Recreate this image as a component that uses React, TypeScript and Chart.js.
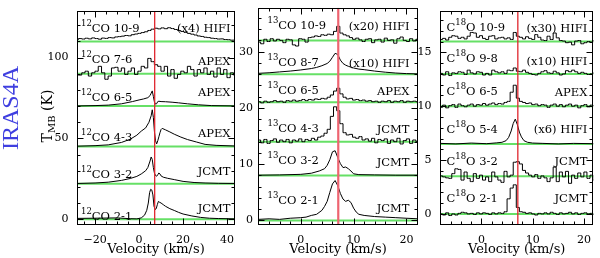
import { useEffect, useRef } from "react";
import { Chart, registerables } from "chart.js";

Chart.register(...registerables);

const V_SYS = 7.1;

// ---------------- 12CO panel ----------------
const GRID_12CO = [-28.3,-26.8,-25.3,-23.8,-22.3,-20.8,-19.3,-17.8,-16.3,-14.8,-13.3,-11.8,-10.3,-8.8,-7.3,-5.8,-4.3,-2.8,-1.3,0.2,1.7,3.2,4.7,6.2,7.7,9.2,10.7,12.2,13.7,15.2,16.7,18.2,19.7,21.2,22.7,24.2,25.7,27.2,28.7,30.2,31.7,33.2,34.7,36.2,37.7,39.2,40.7,42.2,43.7];
const CO12_10_9 = [1.2,1.8,1.5,2.0,1.6,2.2,1.8,1.4,2.1,1.9,2.4,2.2,2.8,3.0,3.3,3.7,3.5,4.2,4.6,5.0,5.5,6.0,6.8,7.6,8.2,7.8,8.4,7.9,8.5,8.0,7.4,6.8,6.2,5.6,5.0,4.5,4.0,3.4,3.1,2.6,2.4,2.0,1.8,1.5,1.6,1.2,1.1,0.8,0.9];
const CO12_7_6 = [-0.8,-0.8,0.6,1.6,-1.4,0.6,1.6,4.6,0.6,-3.4,-1.4,3.6,4.0,1.6,3.6,-0.4,1.6,3.6,-0.4,1.6,4.6,3.6,9.5,7.5,5.6,4.6,1.6,4.6,-1.4,2.6,-2.8,-0.4,1.6,0.6,4.6,2.6,-1.4,2.6,0.6,3.6,-0.4,1.6,-2.0,3.6,-0.4,2.6,-2.4,0.6,-0.8];
const CO12_6_5_V = [-28,-20,-14,-8,-3,0,2,4,5,5.5,6,6.5,7,7.5,8,8.5,9,10,12,15,18,22,27,33,43.6];
const CO12_6_5_T = [0.1,0.3,0.6,1.4,2.8,3.8,4.4,5.2,6.5,8,9.4,6,2.5,1.2,1.5,2.8,3.0,2.8,2.7,2.4,2.0,1.4,0.8,0.3,0.1];
const CO12_4_3_V = [-28,-20,-14,-8,-4,-1,1,3,4.5,5.5,6,6.5,7,7.5,8,8.5,9,9.5,10,10.5,12,14,16,19,22,26,30,35,43.6];
const CO12_4_3_T = [0.2,0.5,1.0,2.5,4.5,7.0,9.5,11.5,15,19,22.7,18,9,3.5,1.6,3.5,6,8.5,10.5,11.2,10.3,9.0,7.6,5.8,4.3,2.8,1.3,0.7,0.3];
const CO12_3_2_V = [-28,-20,-14,-8,-4,-1,1,3,4,5,5.5,6,6.5,7,7.5,8,8.5,9,9.5,10,11,13,16,20,25,30,36,43.6];
const CO12_3_2_T = [0.1,0.4,0.9,2.0,3.2,4.5,6.0,8.0,10,14,16.5,15,10,6.5,5.0,4.6,5.5,6.6,6.0,4.8,4.0,3.3,2.5,1.4,0.7,0.4,0.2,0.1];
const CO12_2_1_V = [-28,-20,-10,-4,-1,1,2.5,3.5,4.2,4.8,5.3,5.8,6.3,6.8,7.3,7.8,8.3,8.8,9.3,10,11,12,14,16,18,20,24,28,32,36,43.6];
const CO12_2_1_T = [0.5,0.6,0.8,0.3,0.2,0.8,2.5,5.5,10,16.5,18.5,18.0,15,8,6,6.5,9,11,10.5,10,9,8,6.5,5.4,4.2,3.2,2.0,1.1,0.6,0.4,0.2];

// ---------------- shared fine grid (13CO, C18O) ----------------
const GRID_FINE = [-7.9,-7.3,-6.7,-6.1,-5.5,-4.9,-4.3,-3.7,-3.1,-2.5,-1.9,-1.3,-0.7,-0.1,0.5,1.1,1.7,2.3,2.9,3.5,4.1,4.7,5.3,5.9,6.5,7.1,7.7,8.3,8.9,9.5,10.1,10.7,11.3,11.9,12.5,13.1,13.7,14.3,14.9,15.5,16.1,16.7,17.3,17.9,18.5,19.1,19.7,20.3,20.9,21.5,22.1];

// ---------------- 13CO panel ----------------
const CO13_10_9 = [-0.3,-0.6,0.2,-0.2,0.3,-0.1,0.2,0.0,-0.4,0.2,0.1,-0.8,-1.0,0.3,0.2,-0.3,0.5,0.6,0.8,0.7,1.0,0.9,1.1,1.0,1.6,2.5,1.3,1.0,0.8,0.5,0.2,0.4,0.1,-0.2,0.2,0.3,-0.4,0.1,0.2,-0.3,0.4,0.0,0.1,-0.5,0.3,0.6,0.0,-0.2,0.3,-0.1,0.2];
const CO13_8_7_V = [-8,-6,-4,-2,0,2,3,4,5,5.5,6,6.5,7,7.5,8,8.5,9,10,11,12,14,16,18,20,22.2];
const CO13_8_7_T = [0.15,0.25,0.4,0.55,0.75,1.0,1.2,1.5,1.9,2.3,3.0,3.7,3.5,2.5,1.9,1.6,1.4,1.1,0.9,0.8,0.55,0.35,0.2,0.1,0.05];
const CO13_6_5 = [0.1,-0.1,0.2,0.0,0.1,0.3,0.1,0.2,0.0,0.3,0.2,0.4,0.2,0.3,0.5,0.3,0.5,0.4,0.6,0.5,0.7,0.6,0.9,1.3,2.0,2.5,1.5,0.9,0.6,0.7,0.4,0.5,0.3,0.4,0.2,0.3,0.1,0.2,0.0,0.2,0.1,0.3,0.0,0.2,0.1,0.3,0.0,0.2,0.1,0.2,0.1];
const CO13_4_3 = [0.3,-0.2,0.4,-0.3,0.2,0.5,-0.1,0.3,0.0,0.4,-0.2,0.3,0.1,0.5,0.0,0.4,0.2,0.6,0.3,0.8,1.0,1.5,2.2,4.5,6.2,5.5,3.2,1.6,1.2,1.3,0.8,0.6,0.9,0.3,0.5,0.1,0.6,-0.2,0.4,0.2,0.5,-0.3,0.3,0.0,0.6,-0.4,0.2,0.5,-0.3,0.3,0.0];
const CO13_3_2_V = [-8,-4,0,2,3.5,4.5,5,5.5,6,6.5,7,7.5,8,8.5,9,9.5,10,11,14,18,22.2];
const CO13_3_2_T = [0.05,0.1,0.2,0.4,0.8,1.2,1.8,2.8,4.2,4.4,3.2,2.1,1.4,1.5,1.2,0.8,0.3,0.15,0.1,0.05,0.05];
const CO13_2_1_V = [-8,-6,-4,-2,0,1,2,3,4,4.5,5,5.5,6,6.5,7,7.5,8,8.5,9,9.5,10,10.5,11,12,14,16,18,20,22.2];
const CO13_2_1_T = [0.2,0.3,0.2,0.4,0.5,0.6,0.9,1.1,1.8,2.5,3.4,5,6.5,7.1,6.2,4.8,3.8,3.4,3.6,3.2,2.2,1.5,1.1,0.9,0.7,0.6,0.5,0.4,0.3];

// ---------------- C18O panel ----------------
const C18O_10_9 = [0.2,0.3,0.15,0.4,0.55,0.5,0.3,0.4,0.25,0.5,0.85,0.8,0.4,0.55,0.3,0.2,0.5,0.55,0.25,0.35,0.4,0.25,0.35,0.2,0.85,0.5,0.4,0.25,0.45,0.3,0.2,0.65,0.4,0.15,0.1,0.5,0.2,0.8,0.35,0.1,0.05,-0.1,-0.05,-0.3,0.05,0.1,-0.2,-0.1,0.0,-0.05,0.1];
const C18O_9_8 = [0.05,-0.1,0.2,-0.15,0.1,0.05,0.2,0.15,-0.05,0.35,0.1,0.0,0.2,0.15,-0.1,0.05,-0.1,0.35,0.2,0.1,0.2,0.05,0.35,0.3,0.55,0.25,0.2,0.35,0.15,0.05,-0.05,-0.1,0.05,0.2,0.3,0.1,0.05,0.25,0.1,-0.1,0.0,0.3,0.2,0.35,0.2,0.05,0.15,0.05,-0.05,0.0,0.1];
const C18O_6_5 = [-0.1,0.1,-0.15,0.05,0.15,-0.1,0.2,0.05,-0.05,0.1,0.2,0.0,0.15,0.1,0.25,0.1,0.2,0.3,0.15,0.25,0.2,0.35,0.45,1.3,1.95,0.75,0.45,0.35,0.25,0.3,0.15,0.2,0.05,0.15,0.1,-0.1,0.1,0.2,0.0,0.15,-0.05,0.1,0.2,0.0,0.1,-0.15,0.05,0.15,-0.05,0.1,0.05];
const C18O_5_4_V = [-8,-5,-2,1,3,4,4.8,5.3,5.8,6.2,6.6,7.0,7.4,7.8,8.3,9,10,12,15,18,21.9];
const C18O_5_4_T = [0.05,0.0,0.08,0.02,0.1,0.15,0.3,0.6,1.2,1.9,2.3,1.8,1.1,0.65,0.3,0.15,0.08,0.05,0.0,0.05,0.02];
const C18O_3_2 = [0.03,-0.06,-0.15,-0.2,0.24,0.69,0.63,-0.36,0.39,-0.2,-0.5,0.24,-0.2,0.1,-0.36,-0.06,-0.5,0.39,-0.06,-0.36,-0.57,0.45,-0.06,0.1,1.3,1.35,1.14,0.54,0.3,0.1,-0.06,0.15,-0.2,0.03,-0.15,-0.5,-0.15,0.84,-0.5,0.39,-0.06,0.45,-0.66,0.1,-0.2,0.3,-0.06,0.39,-0.2,0.1,-0.36];
const C18O_2_1 = [0.0,-0.1,0.1,-0.15,0.0,-0.1,0.05,0.15,0.1,0.0,0.05,-0.05,0.1,0.0,0.1,0.05,-0.05,0.1,0.0,0.1,0.05,0.2,1.4,2.4,2.7,0.6,0.2,0.15,0.05,0.1,0.0,-0.1,0.05,0.0,0.1,0.0,0.15,0.05,-0.05,0.1,0.0,0.05,0.15,0.0,0.1,-0.05,0.05,0.1,0.0,0.05,-0.05];

// ---------------- baselines, transitions, telescopes (bottom to top) ----------------
const BASE_12CO = [0, 22, 45, 70, 90, 110];
const BASE_13CO = [0, 8, 14, 21, 26, 32];
const BASE_C18O = [0, 3.5, 6.5, 10, 13, 16];
const TRANS_12CO = ["2-1", "3-2", "4-3", "6-5", "7-6", "10-9"];
const TRANS_13CO = ["2-1", "3-2", "4-3", "6-5", "8-7", "10-9"];
const TRANS_C18O = ["2-1", "3-2", "5-4", "6-5", "9-8", "10-9"];
const TEL_12CO = ["JCMT", "JCMT", "APEX", "APEX", "APEX", "(x4) HIFI"];
const TEL_13CO = ["JCMT", "JCMT", "JCMT", "APEX", "(x10) HIFI", "(x20) HIFI"];
const TEL_C18O = ["JCMT", "JCMT", "(x6) HIFI", "APEX", "(x10) HIFI", "(x30) HIFI"];
const NAME_Y_12CO = [-0.2, 25.7, 48.3, 73.2, 96.8, 115.6];
const TEL_Y_12CO = [4.4, 27.4, 50.7, 76.2, 95.6, 115.6];
const NAME_Y_13CO = [3.0, 10.0, 15.8, 22.5, 27.4, 34.0];
const TEL_Y_13CO = [1.5, 9.7, 15.5, 22.3, 27.3, 33.8];
const NAME_Y_C18O = [1.06, 4.5, 7.5, 11.0, 14.1, 17.0];
const TEL_Y_C18O = [1.06, 4.5, 7.5, 10.95, 13.85, 16.85];

// ---------------- axis ticks ----------------
const X_MAJOR_12CO = [-20, 0, 20, 40];
const X_MINOR_12CO = [-25, -15, -10, -5, 5, 10, 15, 25, 30, 35];
const Y_MAJOR_12CO = [0, 50, 100];
const Y_MINOR_12CO = [10, 20, 30, 40, 60, 70, 80, 90, 110, 120];
const X_MAJOR_FINE = [0, 10, 20];
const X_MINOR_FINE = [-6, -4, -2, 2, 4, 6, 8, 12, 14, 16, 18];
const Y_MAJOR_13CO = [0, 10, 20, 30];
const Y_MINOR_13CO = [2, 4, 6, 8, 12, 14, 16, 18, 22, 24, 26, 28, 32, 34, 36];
const Y_MAJOR_C18O = [0, 5, 10, 15];
const Y_MINOR_C18O = [1, 2, 3, 4, 6, 7, 8, 9, 11, 12, 13, 14, 16, 17, 18];

type Spec = { v: number[]; t: number[]; stepped: boolean };
type Seg = { t: string; sup?: boolean };

const SPEC_12CO: Spec[] = [
  { v: CO12_2_1_V, t: CO12_2_1_T, stepped: false },
  { v: CO12_3_2_V, t: CO12_3_2_T, stepped: false },
  { v: CO12_4_3_V, t: CO12_4_3_T, stepped: false },
  { v: CO12_6_5_V, t: CO12_6_5_T, stepped: false },
  { v: GRID_12CO, t: CO12_7_6, stepped: true },
  { v: GRID_12CO, t: CO12_10_9, stepped: true },
];
const SPEC_13CO: Spec[] = [
  { v: CO13_2_1_V, t: CO13_2_1_T, stepped: false },
  { v: CO13_3_2_V, t: CO13_3_2_T, stepped: false },
  { v: GRID_FINE, t: CO13_4_3, stepped: true },
  { v: GRID_FINE, t: CO13_6_5, stepped: true },
  { v: CO13_8_7_V, t: CO13_8_7_T, stepped: false },
  { v: GRID_FINE, t: CO13_10_9, stepped: true },
];
const SPEC_C18O: Spec[] = [
  { v: GRID_FINE, t: C18O_2_1, stepped: true },
  { v: GRID_FINE, t: C18O_3_2, stepped: true },
  { v: C18O_5_4_V, t: C18O_5_4_T, stepped: false },
  { v: GRID_FINE, t: C18O_6_5, stepped: true },
  { v: GRID_FINE, t: C18O_9_8, stepped: true },
  { v: GRID_FINE, t: C18O_10_9, stepped: true },
];

interface PanelCfg {
  left: number; right: number;
  xMin: number; xMax: number; yMin: number; yMax: number;
  xMajor: number[]; xMinor: number[]; yMajor: number[]; yMinor: number[];
  spectra: Spec[]; base: number[];
  names: Seg[][]; nameY: number[]; tels: string[]; telY: number[];
  yPad: number; insetL: number; insetR: number;
  redColor: string; redWidth: number;
}

const PANELS: PanelCfg[] = [
  {
    left: 77, right: 235, xMin: -28.2, xMax: 43.6, yMin: -3.6, yMax: 128.7,
    xMajor: X_MAJOR_12CO, xMinor: X_MINOR_12CO, yMajor: Y_MAJOR_12CO, yMinor: Y_MINOR_12CO,
    spectra: SPEC_12CO, base: BASE_12CO,
    names: TRANS_12CO.map((tr) => [{ t: "12", sup: true }, { t: "CO " + tr }]),
    nameY: NAME_Y_12CO, tels: TEL_12CO, telY: TEL_Y_12CO,
    yPad: 8.5, insetL: 4, insetR: 4.5, redColor: "#e0262e", redWidth: 1.3,
  },
  {
    left: 258, right: 418, xMin: -8.1, xMax: 22.2, yMin: -0.8, yMax: 37.8,
    xMajor: X_MAJOR_FINE, xMinor: X_MINOR_FINE, yMajor: Y_MAJOR_13CO, yMinor: Y_MINOR_13CO,
    spectra: SPEC_13CO, base: BASE_13CO,
    names: TRANS_13CO.map((tr) => [{ t: "13", sup: true }, { t: "CO " + tr }]),
    nameY: NAME_Y_13CO, tels: TEL_13CO, telY: TEL_Y_13CO,
    yPad: 5, insetL: 9.5, insetR: 8.5, redColor: "#ee6470", redWidth: 2.2,
  },
  {
    left: 440, right: 598, xMin: -8.1, xMax: 21.85, yMin: -1.03, yMax: 18.82,
    xMajor: X_MAJOR_FINE, xMinor: X_MINOR_FINE, yMajor: Y_MAJOR_C18O, yMinor: Y_MINOR_C18O,
    spectra: SPEC_C18O, base: BASE_C18O,
    names: TRANS_C18O.map((tr) => [{ t: "C" }, { t: "18", sup: true }, { t: "O " + tr }]),
    nameY: NAME_Y_C18O, tels: TEL_C18O, telY: TEL_Y_C18O,
    yPad: 8.5, insetL: 6.5, insetR: 6, redColor: "#e0262e", redWidth: 1.3,
  },
];

const GREEN = "#66e066";
const FONT = "DejaVu Serif";
const fmt = (v: number) => (v < 0 ? "\u2212" + Math.abs(v) : String(v));

function framePlugin(p: PanelCfg) {
  return {
    id: "frame",
    afterDatasetsDraw(chart: any) {
      const { ctx, chartArea: a, scales } = chart;
      const xs = scales.x, ys = scales.y;
      ctx.save();
      ctx.strokeStyle = "#000";
      ctx.lineWidth = 1;
      const L = Math.round(a.left) + 0.5, R = Math.round(a.right) - 0.5;
      const T = Math.round(a.top) + 0.5, B = Math.round(a.bottom) - 0.5;
      ctx.strokeRect(L, T, R - L, B - T);
      ctx.beginPath();
      const xt = (vals: number[], len: number) => vals.forEach((v) => {
        const px = Math.round(xs.getPixelForValue(v)) + 0.5;
        ctx.moveTo(px, B); ctx.lineTo(px, B - len);
        ctx.moveTo(px, T); ctx.lineTo(px, T + len);
      });
      const yt = (vals: number[], len: number) => vals.forEach((v) => {
        const py = Math.round(ys.getPixelForValue(v)) + 0.5;
        ctx.moveTo(L, py); ctx.lineTo(L + len, py);
        ctx.moveTo(R, py); ctx.lineTo(R - len, py);
      });
      xt(p.xMajor, 6); xt(p.xMinor, 3); yt(p.yMajor, 6); yt(p.yMinor, 3);
      ctx.stroke();

      ctx.fillStyle = "#000";
      ctx.textBaseline = "alphabetic";
      p.names.forEach((segs, i) => {
        let x = a.left + p.insetL;
        const y = ys.getPixelForValue(p.nameY[i]);
        ctx.textAlign = "left";
        segs.forEach((s) => {
          ctx.font = s.sup ? `8.5px "${FONT}"` : `11.5px "${FONT}"`;
          ctx.fillText(s.t, x, s.sup ? y - 6 : y);
          x += ctx.measureText(s.t).width;
        });
        ctx.font = `11.5px "${FONT}"`;
        ctx.textAlign = "right";
        ctx.fillText(p.tels[i], a.right - p.insetR, ys.getPixelForValue(p.telY[i]));
      });
      ctx.restore();
    },
  };
}

function buildConfig(p: PanelCfg): any {
  const datasets: any[] = [];
  datasets.push({
    data: [{ x: V_SYS, y: p.yMin }, { x: V_SYS, y: p.yMax }],
    borderColor: p.redColor, borderWidth: p.redWidth, pointRadius: 0, order: 0,
  });
  p.spectra.forEach((s, i) => {
    datasets.push({
      data: s.v.map((v, k) => ({ x: v, y: p.base[i] + s.t[k] })),
      borderColor: "#000", borderWidth: 1, pointRadius: 0, tension: 0,
      stepped: s.stepped ? "middle" : false, order: 1,
    });
  });
  p.base.forEach((b) => {
    datasets.push({
      data: [{ x: p.xMin, y: b }, { x: p.xMax, y: b }],
      borderColor: GREEN, borderWidth: 2, pointRadius: 0, order: 2,
    });
  });
  return {
    type: "line",
    data: { datasets },
    options: {
      responsive: false,
      animation: false,
      events: [],
      layout: { padding: { left: p.left - 40, right: 600 - p.right, top: 4, bottom: 0 }, autoPadding: false },
      plugins: { legend: { display: false }, tooltip: { enabled: false } },
      scales: {
        x: {
          type: "linear", min: p.xMin, max: p.xMax,
          grid: { display: false, drawTicks: false }, border: { display: false },
          afterBuildTicks: (s: any) => { s.ticks = p.xMajor.map((value) => ({ value })); },
          afterFit: (s: any) => { s.height = 33; },
          ticks: {
            padding: 9, color: "#000", font: { family: FONT, size: 11 },
            maxRotation: 0, autoSkip: false, callback: (v: number) => fmt(v),
          },
          title: {
            display: true, text: "Velocity (km/s)", color: "#000",
            font: { family: FONT, size: 13 }, padding: { top: 0, bottom: 1 },
          },
        },
        y: {
          type: "linear", min: p.yMin, max: p.yMax,
          grid: { display: false, drawTicks: false }, border: { display: false },
          afterBuildTicks: (s: any) => { s.ticks = p.yMajor.map((value) => ({ value })); },
          afterFit: (s: any) => { s.width = 40; },
          ticks: {
            padding: p.yPad, color: "#000", font: { family: FONT, size: 11, lineHeight: 0.5 },
            autoSkip: false, callback: (v: number) => fmt(v),
          },
        },
      },
    },
    plugins: [framePlugin(p)],
  };
}

function Panel({ p }: { p: PanelCfg }) {
  const ref = useRef<HTMLCanvasElement>(null);
  useEffect(() => {
    const chart = new Chart(ref.current as HTMLCanvasElement, buildConfig(p));
    return () => chart.destroy();
  }, [p]);
  return (
    <canvas
      ref={ref}
      width={600}
      height={258}
      style={{ position: "absolute", left: 0, top: 0, width: 600, height: 258 }}
    />
  );
}

export default function App() {
  return (
    <div style={{ position: "fixed", left: 0, top: 0, width: 600, height: 258, background: "#fff", overflow: "hidden" }}>
      {PANELS.map((p, i) => (
        <Panel key={i} p={p} />
      ))}
      <div
        style={{
          position: "absolute", left: 10, top: 108, transform: "translate(-50%, -50%) rotate(-90deg)",
          fontFamily: "Liberation Serif", fontSize: 24, color: "#3f3fe0", whiteSpace: "nowrap", lineHeight: 1,
        }}
      >
        IRAS4A
      </div>
      <div
        style={{
          position: "absolute", left: 47, top: 116, transform: "translate(-50%, -50%) rotate(-90deg)",
          fontFamily: FONT, fontSize: 14, color: "#000", whiteSpace: "nowrap", lineHeight: 1,
        }}
      >
        T<span style={{ fontSize: 10, position: "relative", top: 3 }}>MB</span> (K)
      </div>
    </div>
  );
}
